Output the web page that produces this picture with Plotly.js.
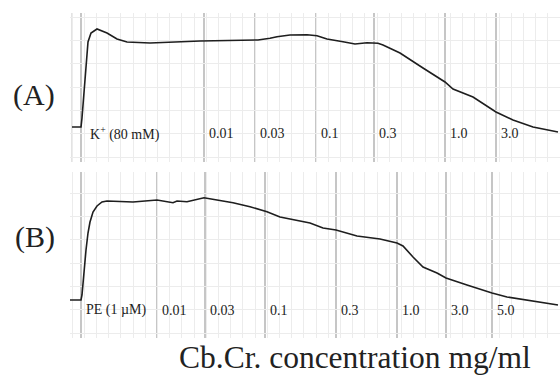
<!DOCTYPE html>
<html>
<head>
<meta charset="utf-8">
<script src="https://cdn.plot.ly/plotly-3.0.1.min.js"></script>
<style>html,body{margin:0;padding:0;background:#fff;}#chart{width:560px;height:378px;}</style>
</head>
<body>
<div id="chart"></div>
<script>
// Panel A: K+ (80 mM) contraction, cumulative Cb.Cr. additions (time in s, tension in arbitrary units)
var timeA = [2,10,11,12,14,16,18,21,27,37,47,57,80,130,170,188,200,207,220,237,247,257,273,285,297,308,313,330,353,375,383,403,426,443,463,488];
var tensionA = [35,35,35,44,72,102,120,129,133,129,123,120,119,121,122,122,123.7,125.3,127,127.3,126.3,123,120.3,118,119.3,118.7,117,109,94,80,73,65,50,42,35,30];
var eventsA = [11,134,185,246,304,375,426];
var labelsA = ["K<sup>+</sup> (80 mM)","0.01","0.03","0.1","0.3","1.0","3.0"];

// Panel B: PE (1 µM) contraction, cumulative Cb.Cr. additions
var timeB = [-2,11,12,14,16,18,20,23,27,32,37,63,87,103,107,117,134,147,163,180,197,210,227,240,253,266,287,310,327,333,343,353,367,376,397,422,437,463,488];
var tensionB = [38,38,43,70,88,105,116,126,132,136,137,136,138,135.3,137,136.3,140.3,138,135.3,131.3,126.3,121,118,115,110,108,102,99,95,92,81,71,65,60,53,45,41,37,33];
var eventsB = [11,87,135,195,266,327,376,422];
var labelsB = ["PE (1 \u00B5M)","0.01","0.03","0.1","0.3","1.0","3.0","5.0"];

var serif = "Liberation Serif, Times New Roman, serif";
var lineStyle = {color:"#1e1e1e", width:1.6};

var traces = [
  {x:timeA, y:tensionA, xaxis:"x", yaxis:"y", mode:"lines", line:lineStyle, hoverinfo:"skip"},
  {x:timeB, y:tensionB, xaxis:"x2", yaxis:"y2", mode:"lines", line:lineStyle, hoverinfo:"skip"}
];

function xax(anchor){
  return {domain:[70/560,1], range:[0,490], anchor:anchor, showgrid:true, gridcolor:"#ececec", gridwidth:1,
    tick0:2, dtick:12.2, showticklabels:false, ticks:"", zeroline:false, showline:false, fixedrange:true};
}
function yax(anchor, dom, rng){
  return {domain:dom, range:rng, anchor:anchor, showgrid:true, gridcolor:"#ececec", gridwidth:1,
    tick0:5, dtick:23.3, showticklabels:false, ticks:"", zeroline:false, showline:false, fixedrange:true};
}

var shapes = [];
eventsA.forEach(function(t){
  shapes.push({type:"line", xref:"x", yref:"y domain", x0:t, x1:t, y0:0, y1:1, line:{color:"#b3b3b3", width:1.5}, layer:"below"});
});
eventsB.forEach(function(t){
  shapes.push({type:"line", xref:"x2", yref:"y2 domain", x0:t, x1:t, y0:0, y1:1, line:{color:"#b3b3b3", width:1.5}, layer:"below"});
});
shapes.push({type:"line", xref:"x", yref:"y domain", x0:2, x1:2, y0:0, y1:1, line:{color:"#d0d0d0", width:1.2}, layer:"below"});

var annotations = [];
eventsA.forEach(function(t,i){
  annotations.push({xref:"x", yref:"y", x:t, y:29, text:labelsA[i], showarrow:false, xanchor:"left", yanchor:"middle",
    xshift:(i===0?7:3), font:{family:serif, size:14, color:"#222"}});
});
eventsB.forEach(function(t,i){
  annotations.push({xref:"x2", yref:"y2", x:t, y:28, text:labelsB[i], showarrow:false, xanchor:"left", yanchor:"middle",
    xshift:3, font:{family:serif, size:14, color:"#222"}});
});
annotations.push({xref:"paper", yref:"paper", x:34/560, y:(378-95)/378, text:"(A)", showarrow:false, xanchor:"center", yanchor:"middle", font:{family:serif, size:30, color:"#222"}});
annotations.push({xref:"paper", yref:"paper", x:35/560, y:(378-237)/378, text:"(B)", showarrow:false, xanchor:"center", yanchor:"middle", font:{family:serif, size:30, color:"#222"}});
annotations.push({xref:"paper", yref:"paper", x:355/560, y:(378-357)/378, text:"Cb.Cr. concentration mg/ml", showarrow:false, xanchor:"center", yanchor:"middle", font:{family:serif, size:31.5, color:"#222"}});

var layout = {
  width:560, height:378, margin:{l:0,r:0,t:0,b:0}, paper_bgcolor:"#fff", plot_bgcolor:"#fff",
  showlegend:false,
  xaxis:xax("y"), yaxis:yax("x", [(378-162)/378, (378-13)/378], [0,149]),
  xaxis2:xax("y2"), yaxis2:yax("x2", [(378-338)/378, (378-172)/378], [0,166]),
  shapes:shapes, annotations:annotations
};

Plotly.newPlot("chart", traces, layout, {displayModeBar:false, staticPlot:true});
</script>
</body>
</html>
